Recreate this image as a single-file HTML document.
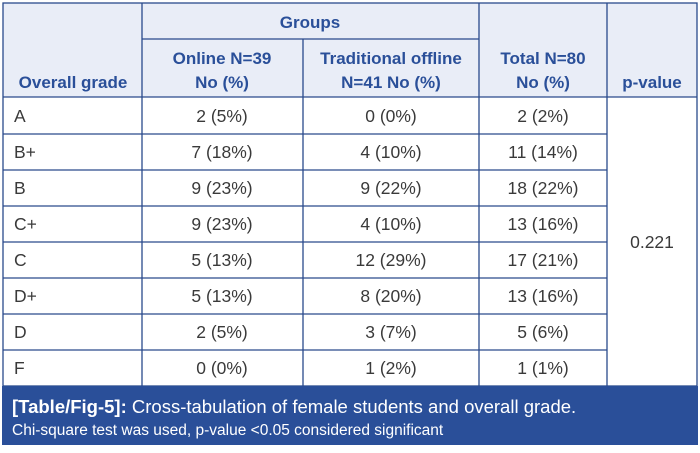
<!DOCTYPE html><html><head><style>body{margin:0;background:#fff}</style></head><body>
<svg width="700" height="448" xmlns="http://www.w3.org/2000/svg" font-family="Liberation Sans, sans-serif">
<rect x="3" y="3" width="694" height="94" fill="#e9edf7"/>
<g stroke="#2a4a8c" stroke-width="1.3" fill="none">
<rect x="3" y="3" width="694" height="383"/>
<line x1="142" y1="3" x2="142" y2="386"/>
<line x1="303" y1="39" x2="303" y2="386"/>
<line x1="479" y1="3" x2="479" y2="386"/>
<line x1="607" y1="3" x2="607" y2="386"/>
<line x1="142" y1="39" x2="479" y2="39"/>
<line x1="3" y1="97" x2="697" y2="97"/>
<line x1="3" y1="134" x2="607" y2="134"/>
<line x1="3" y1="170" x2="607" y2="170"/>
<line x1="3" y1="206" x2="607" y2="206"/>
<line x1="3" y1="242" x2="607" y2="242"/>
<line x1="3" y1="278" x2="607" y2="278"/>
<line x1="3" y1="314" x2="607" y2="314"/>
<line x1="3" y1="350" x2="607" y2="350"/>
</g>
<g fill="#2a4f99" font-size="17" font-weight="bold" text-anchor="middle">
<text x="310" y="28">Groups</text>
<text x="222" y="64">Online N=39</text><text x="222" y="88">No (%)</text>
<text x="391" y="64">Traditional offline</text><text x="391" y="88">N=41 No (%)</text>
<text x="543" y="64">Total N=80</text><text x="543" y="88">No (%)</text>
<text x="652" y="88">p-value</text>
<text x="73" y="88">Overall grade</text>
</g>
<g fill="#3a3a3a" font-size="17.5">
<text x="14" y="122">A</text><text x="14" y="158">B+</text><text x="14" y="194">B</text><text x="14" y="230">C+</text><text x="14" y="266">C</text><text x="14" y="302">D+</text><text x="14" y="338">D</text><text x="14" y="374">F</text>
<g text-anchor="middle">
<text x="222" y="122">2 (5%)</text><text x="391" y="122">0 (0%)</text><text x="543" y="122">2 (2%)</text>
<text x="222" y="158">7 (18%)</text><text x="391" y="158">4 (10%)</text><text x="543" y="158">11 (14%)</text>
<text x="222" y="194">9 (23%)</text><text x="391" y="194">9 (22%)</text><text x="543" y="194">18 (22%)</text>
<text x="222" y="230">9 (23%)</text><text x="391" y="230">4 (10%)</text><text x="543" y="230">13 (16%)</text>
<text x="222" y="266">5 (13%)</text><text x="391" y="266">12 (29%)</text><text x="543" y="266">17 (21%)</text>
<text x="222" y="302">5 (13%)</text><text x="391" y="302">8 (20%)</text><text x="543" y="302">13 (16%)</text>
<text x="222" y="338">2 (5%)</text><text x="391" y="338">3 (7%)</text><text x="543" y="338">5 (6%)</text>
<text x="222" y="374">0 (0%)</text><text x="391" y="374">1 (2%)</text><text x="543" y="374">1 (1%)</text>
<text x="652" y="248">0.221</text>
</g></g>
<rect x="2" y="386" width="696" height="59" fill="#2a4f99"/>
<text x="12" y="413" fill="#fff" font-size="18.5"><tspan font-weight="bold">[Table/Fig-5]:</tspan> Cross-tabulation of female students and overall grade.</text>
<text x="12" y="435" fill="#fff" font-size="15.5">Chi-square test was used, p-value &lt;0.05 considered significant</text>
</svg>
</body></html>
